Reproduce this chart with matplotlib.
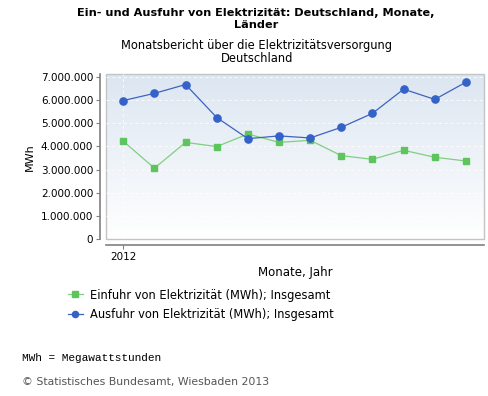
import numpy as np
import matplotlib
matplotlib.use("Agg")
import matplotlib.pyplot as plt
from matplotlib.patches import Rectangle
from matplotlib.ticker import FuncFormatter

# data (MWh)
months = list(range(12))
tick_labels = ["2012"]
einfuhr = [4220000, 3060000, 4170000, 3990000, 4530000, 4170000, 4260000, 3600000, 3440000, 3830000, 3530000, 3370000]
ausfuhr = [5970000, 6280000, 6660000, 5240000, 4330000, 4450000, 4360000, 4820000, 5420000, 6460000, 6020000, 6760000]
series_names = ["Einfuhr von Elektrizität (MWh); Insgesamt",
                "Ausfuhr von Elektrizität (MWh); Insgesamt"]

W, H = 489, 396
fig = plt.figure(figsize=(W / 100, H / 100), dpi=100)
plt.rcParams['font.family'] = ['DejaVu Sans']

def fx(px):
    return px / W

def fy(py):
    return 1 - py / H

ax = fig.add_axes([fx(105.7), fy(239.3), fx(484) - fx(105.7), fy(74.3) - fy(239.3)])

# gradient background
grad = np.linspace(0, 1, 256).reshape(-1, 1)
cmap = matplotlib.colors.LinearSegmentedColormap.from_list("bg", ["#ffffff", "#dce6f1"])
ax.imshow(grad, extent=[0, 1, 0, 1], transform=ax.transAxes, origin="lower",
          cmap=cmap, aspect="auto", zorder=0)
ax.add_patch(Rectangle((0, 0), 1, 1, transform=ax.transAxes, fill=False,
                       edgecolor="#c4c4c4", lw=1.0, clip_on=False, zorder=1))

ax.plot(months, einfuhr, color="#7fd07f", lw=0.9, marker="s", markersize=4.6,
        markerfacecolor="#5ec45e", markeredgecolor="#5ec45e", label=series_names[0], zorder=3)
ax.plot(months, ausfuhr, color="#3d63c0", lw=0.9, marker="o", markersize=5.2,
        markerfacecolor="#3462c8", markeredgecolor="#3462c8", label=series_names[1], zorder=4)

ax.set_xlim(-0.565, 11.58)
ax.set_ylim(0, 7100000)
ax.set_yticks(np.arange(0, 7000001, 1000000))
ax.yaxis.set_major_formatter(FuncFormatter(lambda v, p: f"{int(v):,}".replace(",", ".")))
ax.set_xticks([0])
ax.set_xticklabels(tick_labels)

ax.grid(True, color="white", lw=0.7, ls=(0, (3, 3)), alpha=0.8, zorder=2)
ax.set_axisbelow(False)

for s in ["top", "right"]:
    ax.spines[s].set_visible(False)
for s in ["left", "bottom"]:
    ax.spines[s].set_position(("outward", 4))
    ax.spines[s].set_color("#808080")
    ax.spines[s].set_linewidth(1.2)
ax.tick_params(colors="#808080", labelcolor="black", labelsize=7.5, length=3, width=0.8, pad=2)

ax.set_ylabel("MWh", fontsize=8, labelpad=4)
ax.set_xlabel("Monate, Jahr", fontsize=8.5, labelpad=3)

fig.text(fx(256), fy(19), "Ein- und Ausfuhr von Elektrizität: Deutschland, Monate,\nLänder",
         ha="center", va="center", fontsize=8.1, fontweight="bold", linespacing=1.2)
fig.text(fx(257), fy(51.5), "Monatsbericht über die Elektrizitätsversorgung\nDeutschland",
         ha="center", va="center", fontsize=8.3, linespacing=1.0)

fig.legend(loc="upper left", bbox_to_anchor=(fx(68), fy(288.5)), frameon=False,
           fontsize=8.3, handlelength=1.3, handletextpad=0.6, borderpad=0,
           borderaxespad=0, labelspacing=0.55, markerscale=0.85)

fig.text(fx(22), fy(358), "MWh = Megawattstunden", fontsize=8, family="Liberation Mono",
         va="center", ha="left")
fig.text(fx(22), fy(382), "© Statistisches Bundesamt, Wiesbaden 2013", fontsize=7.8,
         color="#555555", va="center", ha="left")

fig.savefig("out.png", dpi=100)
